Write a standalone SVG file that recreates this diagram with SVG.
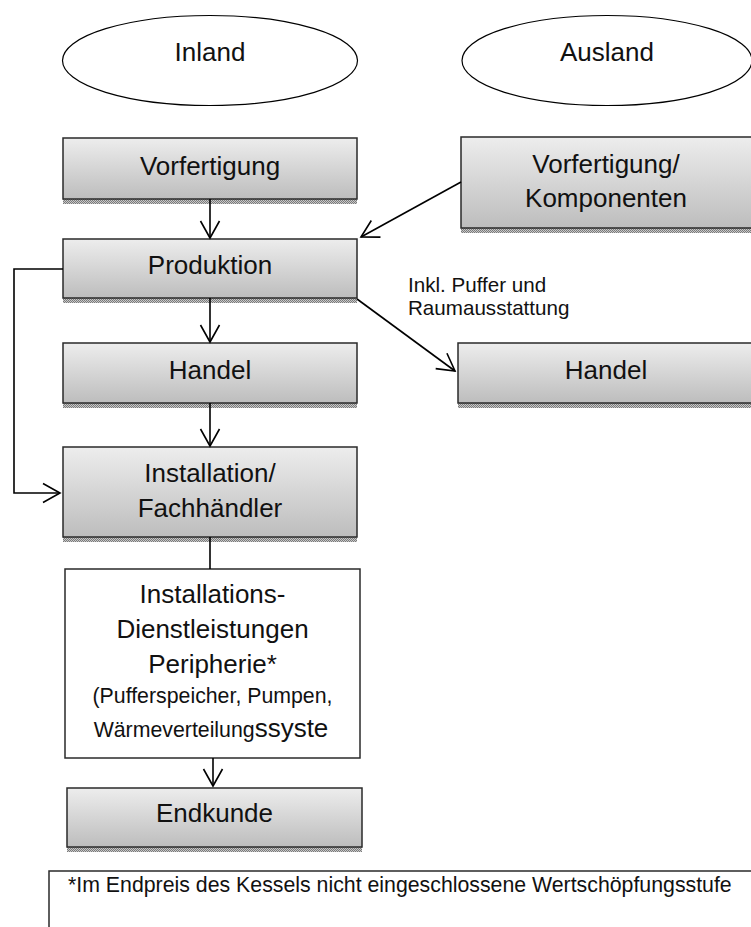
<svg xmlns="http://www.w3.org/2000/svg" width="751" height="927" viewBox="0 0 751 927">
<style>
.box{fill:url(#grad);stroke:#2a2a2a;stroke-width:1.5}
.plain{fill:#fff;stroke:#2a2a2a;stroke-width:1.5}
.shadow{fill:url(#hatch)}
.ell{fill:none;stroke:#000;stroke-width:1.2}
.lbl{font-family:"Liberation Sans",Arial,sans-serif;font-size:26px;fill:#111;text-anchor:middle}
.sm{font-family:"Liberation Sans",Arial,sans-serif;font-size:20.6px;fill:#111}
.mid{font-family:"Liberation Sans",Arial,sans-serif;font-size:21.3px;fill:#111}
.con{fill:none;stroke:#000;stroke-width:1.6}
</style>
<defs>
<linearGradient id="grad" x1="0" y1="0" x2="0" y2="1">
<stop offset="0" stop-color="#ededed"/>
<stop offset="1" stop-color="#bdbdbd"/>
</linearGradient>
<pattern id="hatch" width="2" height="2" patternUnits="userSpaceOnUse">
<rect width="2" height="2" fill="#c8c8c8"/>
<rect width="1" height="1" fill="#7a7a7a"/>
<rect x="1" y="1" width="1" height="1" fill="#7a7a7a"/>
</pattern>
<marker id="arr" markerUnits="userSpaceOnUse" markerWidth="24" markerHeight="24" refX="0" refY="0" viewBox="-20 -12 22 24" orient="auto" overflow="visible">
<path d="M-17,-9.5 L0,0 L-17,9.5" fill="none" stroke="#000" stroke-width="1.6"/>
</marker>
</defs>
<rect width="751" height="927" fill="#fff"/>

<g id="inland">
<ellipse class="ell" cx="210" cy="60.5" rx="147.5" ry="45"/>
<text class="lbl" x="210" y="61">Inland</text>
</g>
<g id="ausland">
<ellipse class="ell" cx="607" cy="60.5" rx="145" ry="45"/>
<text class="lbl" x="607" y="61">Ausland</text>
</g>

<g id="vorfertigung">
<rect class="shadow" x="63" y="199" width="294" height="5"/>
<rect class="box" x="63" y="138" width="294" height="61"/>
<text class="lbl" x="210" y="175">Vorfertigung</text>
</g>
<g id="komponenten">
<rect class="shadow" x="461" y="228" width="292" height="5"/>
<rect class="box" x="461" y="137" width="292" height="91"/>
<text class="lbl" x="606" y="173">Vorfertigung/</text>
<text class="lbl" x="606" y="207">Komponenten</text>
</g>
<g id="produktion">
<rect class="shadow" x="63" y="298" width="294" height="5"/>
<rect class="box" x="63" y="239" width="294" height="59"/>
<text class="lbl" x="210" y="274">Produktion</text>
</g>
<g id="handel-inland">
<rect class="shadow" x="63" y="403" width="294" height="5"/>
<rect class="box" x="63" y="343" width="294" height="60"/>
<text class="lbl" x="210" y="379">Handel</text>
</g>
<g id="handel-ausland">
<rect class="shadow" x="458" y="403" width="295" height="5"/>
<rect class="box" x="458" y="343" width="295" height="60"/>
<text class="lbl" x="606" y="379">Handel</text>
</g>
<g id="installation">
<rect class="shadow" x="63" y="537" width="294" height="5"/>
<rect class="box" x="63" y="447" width="294" height="90"/>
<text class="lbl" x="210" y="482">Installation/</text>
<text class="lbl" x="210" y="517">Fachhändler</text>
</g>
<g id="dienstleistungen">
<rect class="plain" x="65" y="569" width="295" height="189"/>
<text class="lbl" x="212.5" y="603">Installations-</text>
<text class="lbl" x="212.5" y="638">Dienstleistungen</text>
<text class="lbl" x="212.5" y="673">Peripherie*</text>
<text class="mid" x="212.5" y="703" text-anchor="middle">(Pufferspeicher, Pumpen,</text>
<text class="mid" x="211" y="737" text-anchor="middle">Wärmeverteilung<tspan font-size="26">ssyste</tspan></text>
</g>
<g id="endkunde">
<rect class="shadow" x="67" y="847" width="295" height="5"/>
<rect class="box" x="67" y="788" width="295" height="59"/>
<text class="lbl" x="214.5" y="822">Endkunde</text>
</g>
<g id="footnote">
<rect class="plain" x="49" y="871" width="720" height="80"/>
<text class="mid" x="68" y="892">*Im Endpreis des Kessels nicht eingeschlossene Wertschöpfungsstufe</text>
</g>

<g id="connectors">
<line class="con" x1="210" y1="199" x2="210" y2="238" marker-end="url(#arr)"/>
<line class="con" x1="461" y1="182" x2="361" y2="237" marker-end="url(#arr)"/>
<line class="con" x1="210" y1="298" x2="210" y2="342" marker-end="url(#arr)"/>
<line class="con" x1="357" y1="299" x2="455" y2="371" marker-end="url(#arr)"/>
<line class="con" x1="210" y1="403" x2="210" y2="446" marker-end="url(#arr)"/>
<polyline class="con" points="63,269 14,269 14,493 60,493" marker-end="url(#arr)"/>
<line class="con" x1="210" y1="537" x2="210" y2="569"/>
<line class="con" x1="213" y1="758" x2="213" y2="786" marker-end="url(#arr)"/>
</g>
<text class="sm" x="408" y="292">Inkl. Puffer und</text>
<text class="sm" x="408" y="315">Raumausstattung</text>
</svg>
